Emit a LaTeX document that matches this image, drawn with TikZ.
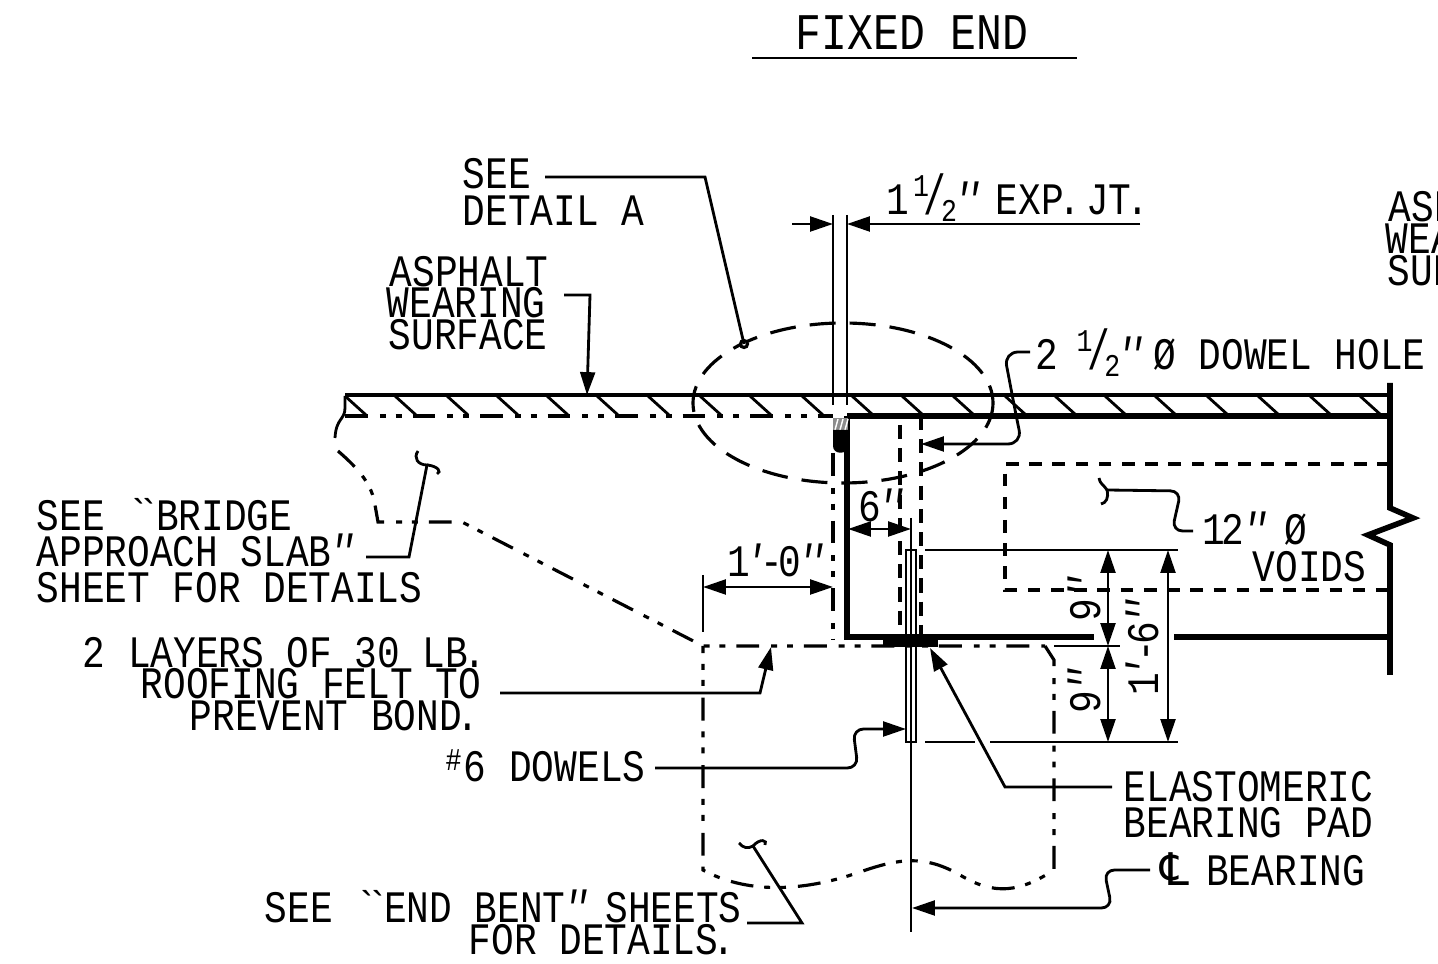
\documentclass[tikz,border=0pt]{standalone}
\usepackage{fontspec}
\usetikzlibrary{arrows.meta}
\newfontfamily\cadfont[FakeStretch=.84,ItalicFont=Liberation Mono Italic]{Liberation Mono}
\newfontfamily\symfont{DejaVu Sans}
\newcommand{\halfmark}{\raisebox{.42em}{\small 1}\kern-.12em\scalebox{1}[1.25]{/}\kern-.12em\raisebox{-.14em}{\small 2}}
\newcommand{\inmark}{{\itshape\kern-.12em'\kern-.27em'\kern-.14em}}
\newcommand{\ftmark}{{\itshape\kern-.14em'\kern-.14em}}
\newcommand{\openmark}{`\kern-.27em`\kern-.1em}
\newcommand{\dotmark}{\kern-.12em.\kern-.14em}
\begin{document}
\begin{tikzpicture}[x=.01cm,y=-.01cm]
  \tikzset{lbl/.style={anchor=base west, inner sep=0pt, yshift=-.02cm, font=\cadfont\fontsize{12.8}{14}\selectfont},
    thin line/.style={line width=.8pt},
    thick line/.style={line width=1.6pt},
    cut line/.style={line width=1pt, dash pattern=on 3.6pt off 3pt},
    hole line/.style={line width=.95pt, dash pattern=on 4pt off 2.6pt},
    center line/.style={line width=.9pt, dash pattern=on 6.5pt off 3.4pt on 1.7pt off 2.8pt on 1.7pt off 3.1pt},
    >={Triangle[length=6.5pt,width=4.2pt]}}
  \useasboundingbox (0,0) rectangle (1438,964);

  \node[lbl, font=\cadfont\fontsize{14.6}{16}\selectfont] at (795,48) (title) {FIXED END};
  \draw[thin line] (752,58) -- (1077,58);

  \node[lbl] at (462,187) (see_1) {SEE};
  \node[lbl] at (462,224) (see_2) {DETAIL A};
  \node[lbl] at (886,213) (exp) {1\kern-.42em{} \halfmark\inmark\kern-.12em{} EXP\dotmark\kern-.25em{} JT\dotmark};
  \node[lbl] at (389,285) (wear_1) {ASPHALT};
  \node[lbl] at (386,316) (wear_2) {WEARING};
  \node[lbl] at (388,348) (wear_3) {SURFACE};
  \node[lbl] at (1388,220) (wear_r1) {ASP};
  \node[lbl] at (1385,252) (wear_r2) {WEA};
  \node[lbl] at (1387,284) (wear_r3) {SUR};
  \node[lbl] at (1035,368) (hole) {2\kern-.1em{} \halfmark\inmark\kern-.25em{} Ø DOWEL HOLE};
  \node[lbl] at (36,529) (slab_1) {SEE \openmark BRIDGE};
  \node[lbl] at (36,565) (slab_2) {APPROACH SLAB\inmark};
  \node[lbl] at (36,601) (slab_3) {SHEET FOR DETAILS};
  \node[lbl] at (82,666) (felt_1) {2 LAYERS OF 30 LB\dotmark};
  \node[lbl] at (140,697) (felt_2) {ROOFING FELT TO};
  \node[lbl] at (189,729) (felt_3) {PREVENT BOND\dotmark};
  \node[lbl] at (445,780) (dowels) {\raisebox{.25em}{\small\#}\kern.05em6 DOWELS};
  \node[lbl] at (264,921) (bent_1) {SEE \openmark END BENT\inmark\kern-.1em{} SHEETS};
  \node[lbl] at (468,953) (bent_2) {FOR DETAILS\dotmark};
  \node[lbl] at (1123,800) (pad_1) {ELASTOMERIC};
  \node[lbl] at (1123,836) (pad_2) {BEARING PAD};
  \node[lbl] at (1160,884) (brg) {{\symfont ℄}\kern.37em BEARING};
  \node[lbl] at (1202,543) (void_1) {1\kern-.08em 2\inmark\kern-.1em{} Ø};
  \node[lbl] at (1252,580) (void_2) {VOIDS};
  \node[lbl] at (858,520) (six) {6\inmark};
  \node[lbl] at (727,575) (foot) {1\ftmark-\kern-.1em 0\inmark};
  \node[lbl, rotate=90, anchor=base] at (1100,597) (nine_1) {9\inmark};
  \node[lbl, rotate=90, anchor=base] at (1100,689) (nine_2) {9\inmark};
  \node[lbl, rotate=90, anchor=base] at (1158,646) (total) {1\ftmark-\kern-.1em 6\inmark};

  \draw[line width=.95pt] (345,395) -- (1390,395);
  \foreach \hx in {345,395,447,497,547,597,648,700,750,802,852,902,953,1005,1055,1105,1155,1207,1258,1310,1360}
    \draw[thin line] (\hx,396) -- (\hx+21,415);
  \draw[center line] (345,416) -- (833,416);
  \draw[thick line] (847,416) -- (1390,416);
  \draw[thick line] (847,416) -- (847,637) -- (1094,637);
  \draw[thick line] (1174,637) -- (1390,637);
  \draw[thick line] (1390,383) -- (1390,508) -- (1413,518) -- (1368,535) -- (1390,545) -- (1390,675);
  \draw[cut line] (1390,464) -- (1005,464) -- (1005,590) -- (1390,590);

  \draw[thin line] (833,215) -- (833,405);
  \draw[thin line] (847,215) -- (847,405);
  \draw[center line] (833,453) -- (833,640);
  \fill[black!45] (833,418) rectangle (848,431);
  \foreach \hx in {835,840,845}
    \draw[white, line width=.4pt] (\hx,430) -- (\hx+3,419);
  \fill (833,430) -- (848,430) -- (848,446) .. controls (848,455) and (833,455) .. (833,446) -- cycle;

  \draw[line width=.9pt, dash pattern=on 7.4pt off 4pt] (843,403) ellipse [x radius=150, y radius=80];
  \draw[line width=.9pt, fill=white] (744,344) circle (3.5);

  \draw[hole line] (921,416) -- (921,637);
  \draw[hole line] (900,425) -- (900,637);
  \fill (883,637) rectangle (938,647);
  \draw[thin line] (906,550) rectangle (916,742);
  \draw[thin line] (911,518) -- (911,932);

  \draw[thin line] (345,396) -- (345,408) .. controls (345,420) and (336,418) .. (335,438);
  \draw[center line] (338,451) .. controls (360,470) and (372,485) .. (375,505) -- (378,522) -- (462,522) -- (703,646) -- (1045,646);
  \draw[center line] (1045,646) -- (1054,660) -- (1054,870) .. controls (1020,892) and (995,896) .. (960,875) .. controls (925,855) and (900,858) .. (860,872) .. controls (800,893) and (745,893) .. (703,870) -- (703,646);

  \draw[thin line] (925,550) -- (1178,550);
  \draw[thin line] (925,742) -- (975,742);
  \draw[thin line] (990,742) -- (1178,742);
  \draw[thin line] (1054,646) -- (1120,646);
  \draw[thin line] (703,575) -- (703,632);

  \coordinate (d_1) at (1108,550);
  \coordinate (d_2) at (1108,646);
  \coordinate (d_3) at (1108,742);
  \coordinate (d_4) at (1168,550);
  \coordinate (d_5) at (1168,742);
  \coordinate (e_1) at (703,587);
  \coordinate (e_2) at (833,587);
  \coordinate (f_1) at (848,529);
  \coordinate (f_2) at (911,529);
  \draw[thin line, <->] (d_1) -- (d_2);
  \draw[thin line, <->] (d_2) -- (d_3);
  \draw[thin line, <->] (d_4) -- (d_5);
  \draw[thin line, <->] (e_1) -- (e_2);
  \draw[thin line, <->] (f_1) -- (f_2);

  \coordinate (j_1) at (792,224);
  \coordinate (j_2) at (833,224);
  \coordinate (j_3) at (1140,224);
  \coordinate (j_4) at (847,224);
  \draw[thin line, ->] (j_1) -- (j_2);
  \draw[thin line, ->] (j_3) -- (j_4);

  \coordinate (see_a) at (705,177);
  \coordinate (see_b) at (744,344);
  \draw[thin line] (545,177) -- (see_a) -- (see_b);

  \coordinate (wear_a) at (590,295);
  \coordinate (wear_b) at (587,395);
  \draw[thin line, ->] (564,295) -- (wear_a) -- (wear_b);

  \coordinate (slab_a) at (409,557);
  \coordinate (slab_b) at (427,465);
  \draw[thin line] (366,557) -- (slab_a) -- (slab_b) .. controls (418,465) and (413,458) .. (418,451);
  \draw[thin line] (slab_b) .. controls (438,466) and (442,472) .. (437,474);

  \coordinate (felt_a) at (760,693);
  \coordinate (felt_b) at (771,647);
  \draw[thin line, ->] (500,693) -- (felt_a) -- (felt_b);

  \coordinate (dowel_s) at (655,768);
  \coordinate (dowel_a) at (858,768);
  \coordinate (dowel_b) at (853,729);
  \coordinate (dowel_c) at (906,729);
  \draw[thin line, ->, rounded corners=3pt] (dowel_s) -- (dowel_a) -- (dowel_b) -- (dowel_c);

  \coordinate (pad_a) at (1005,787);
  \coordinate (pad_b) at (930,648);
  \draw[thin line, ->] (1112,787) -- (pad_a) -- (pad_b);

  \coordinate (brg_a) at (1104,870);
  \coordinate (brg_b) at (1112,908);
  \coordinate (brg_c) at (912,908);
  \draw[thin line, ->, rounded corners=3pt] (1150,870) -- (brg_a) -- (brg_b) -- (brg_c);

  \coordinate (bent_a) at (802,923);
  \coordinate (bent_b) at (753,846);
  \draw[thin line] (747,923) -- (bent_a) -- (bent_b) .. controls (748,849) and (743,848) .. (739,843);
  \draw[thin line] (bent_b) .. controls (760,838) and (768,840) .. (765,845);

  \coordinate (hole_a) at (1004,352);
  \coordinate (hole_b) at (1022,444);
  \coordinate (hole_c) at (921,444);
  \draw[thin line, ->, rounded corners=4pt] (1030,352) -- (hole_a) -- (1016,415) -- (hole_b) -- (hole_c);

  \coordinate (void_a) at (1181,491);
  \coordinate (void_b) at (1172,531);
  \draw[thin line, rounded corners=3pt] (1193,531) -- (void_b) -- (void_a) -- (1107,490);
  \draw[thin line] (1107,490) .. controls (1103,484) and (1100,484) .. (1099,478);
  \draw[thin line] (1107,490) .. controls (1109,498) and (1106,503) .. (1101,504);
\end{tikzpicture}
\end{document}
